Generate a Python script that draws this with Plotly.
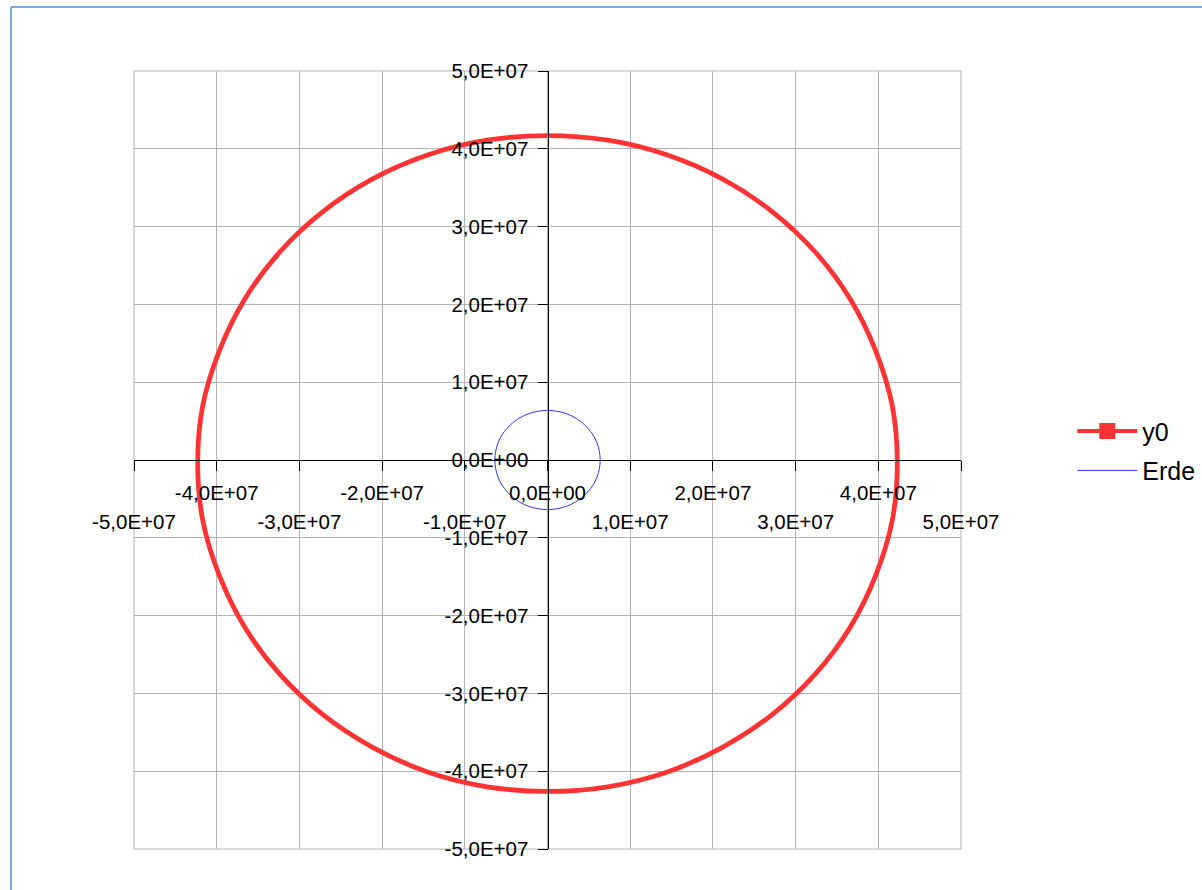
import plotly.graph_objects as go

# Orbit track (y0) and Earth outline, coordinates in units of 1e7 m
orbit_x = [4.23, 4.17, 3.97, 3.66, 3.24, 2.72, 2.12, 1.45, 0.73, 0.00,
           -0.73, -1.45, -2.12, -2.72, -3.24, -3.66, -3.97, -4.17, -4.23,
           -4.17, -3.97, -3.66, -3.24, -2.72, -2.12, -1.45, -0.73, 0.00,
           0.73, 1.45, 2.12, 2.72, 3.24, 3.66, 3.97, 4.17, 4.23]
orbit_y = [-0.04, 0.69, 1.40, 2.07, 2.67, 3.19, 3.61, 3.92, 4.11, 4.17,
           4.11, 3.92, 3.61, 3.19, 2.67, 2.07, 1.40, 0.69, -0.04,
           -0.77, -1.48, -2.15, -2.75, -3.27, -3.69, -4.01, -4.20, -4.26,
           -4.20, -4.01, -3.69, -3.27, -2.75, -2.15, -1.48, -0.77, -0.04]

earth_x = [0.637, 0.627, 0.599, 0.552, 0.488, 0.409, 0.319, 0.218, 0.111, 0.0,
           -0.111, -0.218, -0.319, -0.409, -0.488, -0.552, -0.599, -0.627, -0.637,
           -0.627, -0.599, -0.552, -0.488, -0.409, -0.319, -0.218, -0.111, 0.0,
           0.111, 0.218, 0.319, 0.409, 0.488, 0.552, 0.599, 0.627, 0.637]
earth_y = [0.0, 0.111, 0.218, 0.319, 0.409, 0.488, 0.552, 0.599, 0.627, 0.637,
           0.627, 0.599, 0.552, 0.488, 0.409, 0.319, 0.218, 0.111, 0.0,
           -0.111, -0.218, -0.319, -0.409, -0.488, -0.552, -0.599, -0.627, -0.637,
           -0.627, -0.599, -0.552, -0.488, -0.409, -0.319, -0.218, -0.111, 0.0]

UNIT = 1e7

# Axis ticks every 1e7 m; x labels alternate between two rows
tick_vals = [-5, -4, -3, -2, -1, 0, 1, 2, 3, 4, 5]
tick_text = ["-5,0E+07", "-4,0E+07", "-3,0E+07", "-2,0E+07", "-1,0E+07", "0,0E+00",
             "1,0E+07", "2,0E+07", "3,0E+07", "4,0E+07", "5,0E+07"]

RED = "#ff3333"
BLUE = "#3333ff"
GRID = "#b3b3b3"
FONT = "Liberation Sans, Arial, sans-serif"
TICK_SIZE = 20.5

tv = [v * UNIT for v in tick_vals]
upper_text = [t if v % 2 == 0 else "" for v, t in zip(tick_vals, tick_text)]
lower_vals = [v * UNIT for v in tick_vals if v % 2 != 0]
lower_text = [t for v, t in zip(tick_vals, tick_text) if v % 2 != 0]

fig = go.Figure()

fig.add_trace(go.Scatter(
    x=[v * UNIT for v in orbit_x], y=[v * UNIT for v in orbit_y],
    mode="lines", line=dict(color=RED, width=4.8, shape="spline"),
    name="y0", showlegend=False, legendgroup="y0", hoverinfo="skip",
))
# legend entry for y0 (line with square marker)
fig.add_trace(go.Scatter(
    x=[None], y=[None], mode="lines+markers", name="y0", legendgroup="y0",
    line=dict(color=RED, width=4),
    marker=dict(symbol="square", size=16, color=RED),
))
fig.add_trace(go.Scatter(
    x=[v * UNIT for v in earth_x], y=[v * UNIT for v in earth_y],
    xaxis="x2", mode="lines", line=dict(color=BLUE, width=1, shape="spline"),
    name="Erde", legendgroup="erde", hoverinfo="skip",
))

rng = [-5 * UNIT, 5 * UNIT]

fig.update_layout(
    width=1202, height=890,
    margin=dict(l=134, r=241, t=71, b=41, autoexpand=False),
    paper_bgcolor="white", plot_bgcolor="white",
    font=dict(family=FONT, size=TICK_SIZE, color="black"),
    showlegend=True,
    legend=dict(
        x=1.1345, y=0.512, xanchor="left", yanchor="middle",
        font=dict(size=25, family=FONT, color="black"),
        itemwidth=60, bgcolor="rgba(0,0,0,0)",
        traceorder="grouped", tracegroupgap=4,
    ),
    xaxis=dict(
        range=rng, anchor="free", position=0.5,
        tickmode="array", tickvals=tv, ticktext=upper_text,
        ticks="outside", ticklen=10, tickcolor="black", tickwidth=1,
        showline=True, linecolor="black", linewidth=1,
        showgrid=True, gridcolor=GRID, gridwidth=1,
        zeroline=False, ticklabelstandoff=4,
        tickfont=dict(size=TICK_SIZE, family=FONT, color="black"),
    ),
    xaxis2=dict(
        range=rng, overlaying="x", matches="x", anchor="free", position=0.5,
        tickmode="array", tickvals=lower_vals, ticktext=lower_text,
        ticks="", showline=False, showgrid=False, zeroline=False,
        ticklabelstandoff=47,
        tickfont=dict(size=TICK_SIZE, family=FONT, color="black"),
    ),
    yaxis=dict(
        range=rng, anchor="free", position=0.5,
        tickmode="array", tickvals=tv, ticktext=tick_text,
        ticks="outside", ticklen=10, tickcolor="black", tickwidth=1,
        showline=True, linecolor="black", linewidth=1,
        showgrid=True, gridcolor=GRID, gridwidth=1,
        zeroline=False, ticklabelstandoff=5,
        tickfont=dict(size=TICK_SIZE, family=FONT, color="black"),
    ),
    shapes=[
        # plot area frame
        dict(type="rect", xref="paper", yref="paper", x0=0, x1=1, y0=0, y1=1,
             line=dict(color=GRID, width=1), layer="below"),
        # outer chart border (top and left edges)
        dict(type="line", xref="paper", yref="paper",
             x0=-0.1487, x1=1.3, y0=1.0823, y1=1.0823,
             line=dict(color="#4a90e2", width=1.5)),
        dict(type="line", xref="paper", yref="paper",
             x0=-0.1487, x1=-0.1487, y0=-0.06, y1=1.0823,
             line=dict(color="#4a90e2", width=1.5)),
    ],
)

fig.write_html("out.html")
